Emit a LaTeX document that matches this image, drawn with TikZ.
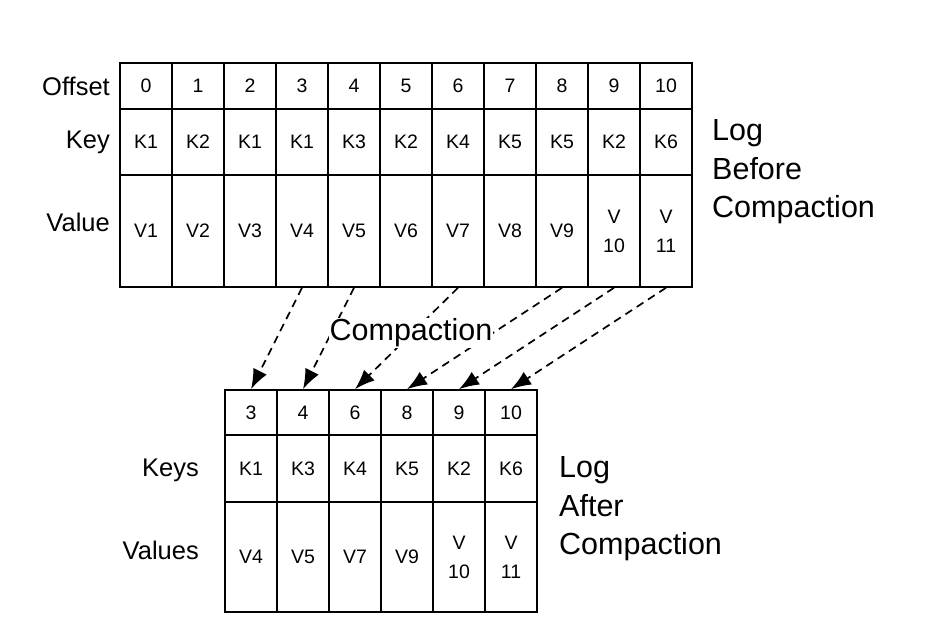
\documentclass[tikz,border=0pt]{standalone}
\usepackage{fontspec}
\setmainfont{Liberation Sans}
\usetikzlibrary{arrows.meta}
\begin{document}
\begin{tikzpicture}[x=1pt,y=-1pt,
  cell/.style={draw, line width=1.6pt, minimum width=52pt, inner sep=0pt,
    font=\fontsize{19.5}{29}\selectfont, align=center},
  orow/.style={cell, minimum height=46pt},
  krow/.style={cell, minimum height=66pt},
  vrow/.style={cell, minimum height=112pt},
  borow/.style={cell, minimum height=45pt},
  bkrow/.style={cell, minimum height=67pt},
  bvrow/.style={cell, minimum height=110pt},
  rowlabel/.style={anchor=east, inner sep=0pt, font=\fontsize{25.5}{30}\selectfont},
  sidelabel/.style={anchor=west, align=left, inner sep=0pt, font=\fontsize{30.5}{38.5}\selectfont},
  movearrow/.style={line width=1.7pt, dash pattern=on 8pt off 5.5pt, -{Latex[length=20pt,width=15pt]}}
]
\useasboundingbox (0,0) rectangle (927,644);
% top table
\foreach \i/\k/\v in {0/K1/V1,1/K2/V2,2/K1/V3,3/K1/V4,4/K3/V5,5/K2/V6,6/K4/V7,7/K5/V8,8/K5/V9,9/K2/{V\\10},10/K6/{V\\11}}{
  \node[orow] (o\i) at (146+52*\i,86) {\i};
  \node[krow] (k\i) at (146+52*\i,142) {\k};
  \node[vrow] (v\i) at (146+52*\i,231) {\v};
}
% bottom table
\foreach \j/\o/\k/\v in {0/3/K1/V4,1/4/K3/V5,2/6/K4/V7,3/8/K5/V9,4/9/K2/{V\\10},5/10/K6/{V\\11}}{
  \node[borow] (bo\j) at (251+52*\j,412.5) {\o};
  \node[bkrow] (bk\j) at (251+52*\j,468.5) {\k};
  \node[bvrow] (bv\j) at (251+52*\j,557) {\v};
}
% labels
\node[rowlabel] (loff) at (110,86) {Offset};
\node[rowlabel] (lkey) at (110,142) {Key};
\node[rowlabel] (lval) at (110,222) {Value};
\node[rowlabel] (lkeys) at (199,470) {Keys};
\node[rowlabel] (lvals) at (199,550) {Values};
\node[sidelabel] (before) at (712,172) {Log\\Before\\Compaction};
\node[sidelabel] (after) at (559,509) {Log\\After\\Compaction};
% arrows
\draw[movearrow] (v3.south) -- (bo0.north);
\draw[movearrow] (v4.south) -- (bo1.north);
\draw[movearrow] (v6.south) -- (bo2.north);
\draw[movearrow] (v8.south) -- (bo3.north);
\draw[movearrow] (v9.south) -- (bo4.north);
\draw[movearrow] (v10.south) -- (bo5.north);
\node[fill=white, inner sep=1pt, font=\fontsize{30.5}{36}\selectfont] (comp) at (411,333) {Compaction};
\end{tikzpicture}
\end{document}
